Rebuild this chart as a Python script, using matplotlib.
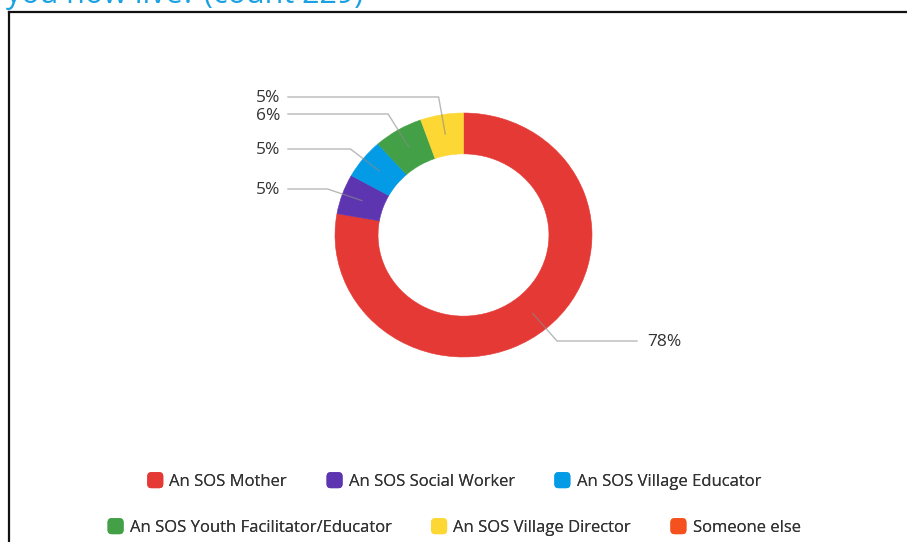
import matplotlib
matplotlib.use("Agg")
import matplotlib.pyplot as plt
import numpy as np
from matplotlib.patches import Patch, FancyBboxPatch
from matplotlib.legend_handler import HandlerPatch
from matplotlib.lines import Line2D

# ---- data ----
categories = ["An SOS Mother", "An SOS Social Worker", "An SOS Village Educator",
              "An SOS Youth Facilitator/Educator", "An SOS Village Director", "Someone else"]
percents = [77.8, 5.3, 5.3, 6.2, 5.4, 0.0]
colors = ["#E53935", "#5E35B1", "#039BE5", "#43A047", "#FDD835", "#F4511E"]
title = "you now live? (count 229)"

# ---- layout (pixels) ----
W, H = 907, 542
CX, CY, RX, RY = 463.5, 235.0, 128.5, 122.0
label_y_px = {"An SOS Mother": 341, "An SOS Social Worker": 189, "An SOS Village Educator": 149,
              "An SOS Youth Facilitator/Educator": 114, "An SOS Village Director": 97}
FONT = "Open Sans"
TEXT_COLOR = "#333333"

plt.rcParams["font.family"] = [FONT, "DejaVu Sans"]

fig = plt.figure(figsize=(W / 100, H / 100), dpi=100)
ax = fig.add_axes([0, 0, 1, 1])

shown = [(c, v, col) for c, v, col in zip(categories, percents, colors) if v > 0]
vals = [v for _, v, _ in shown]
cols = [col for _, _, col in shown]
wedges, _ = ax.pie(vals, colors=cols, startangle=90, counterclock=False, radius=1.0,
                   wedgeprops=dict(width=0.335, linewidth=0.4))
for w, col in zip(wedges, cols):
    w.set_edgecolor(col)

ax.set_aspect("auto")
ax.set_xlim((0 - CX) / RX, (W - CX) / RX)
ax.set_ylim((CY - H) / RY, CY / RY)
ax.axis("off")

def to_data_x(px):
    return (px - CX) / RX

def to_data_y(py):
    return (CY - py) / RY

# ---- labels with leader lines ----
for (cat, v, col), w in zip(shown, wedges):
    mid = np.deg2rad((w.theta1 + w.theta2) / 2.0)
    c, s = np.cos(mid), np.sin(mid)
    axp, ayp = 0.84 * c, 0.84 * s
    ly = to_data_y(label_y_px[cat])
    t = (ly - ayp) / s if abs(s) > 1e-6 else 0.3
    ex = axp + t * c
    if c > 0:
        endx = to_data_x(637)
        tx, ha = to_data_x(647), "left"
    else:
        endx = to_data_x(288)
        tx, ha = to_data_x(280), "right"
    ax.plot([axp, ex, endx], [ayp, ly, ly], color="#8a8a8a", lw=1.0, alpha=0.6,
            solid_joinstyle="miter", zorder=5)
    ax.text(tx, to_data_y(label_y_px[cat] + 1.5), f"{v:.0f}%", ha=ha, va="center",
            fontsize=12.5, color=TEXT_COLOR, zorder=6)

# ---- legend with rounded square handles ----
class RoundHandler(HandlerPatch):
    def create_artists(self, legend, orig_handle, xdescent, ydescent, width, height,
                       fontsize, trans):
        size = min(width, height)
        p = FancyBboxPatch((-xdescent + (width - size) / 2, -ydescent + (height - size) / 2),
                           size, size, boxstyle="round,pad=0,rounding_size=3",
                           facecolor=orig_handle.get_facecolor(), edgecolor="none",
                           transform=trans)
        return [p]

handles = [Patch(facecolor=col, label=cat) for cat, col in zip(categories, colors)]
rows = [(handles[:3], 1 - 481 / H), (handles[3:], 1 - 527 / H)]
for hs, yc in rows:
    leg = fig.legend(handles=hs, loc="center", bbox_to_anchor=(0.5, yc), ncol=3,
                     frameon=False, fontsize=12, handlelength=1.1, handleheight=1.1,
                     handletextpad=0.3, columnspacing=2.3, borderpad=0,
                     handler_map={Patch: RoundHandler()})
    for t in leg.get_texts():
        t.set_color(TEXT_COLOR)
    fig.add_artist(leg)

# ---- title (cut off at the top, as in the reference) and frame ----
fig.text(6 / W, 1 - 2.5 / H, title, color="#1BA1E2", fontsize=22, ha="left", va="baseline")
fig.add_artist(Line2D([9 / W, 9 / W], [0, 1 - 11.5 / H], color="#111111", lw=1.6,
                      transform=fig.transFigure))
fig.add_artist(Line2D([9 / W, 1], [1 - 11.5 / H, 1 - 11.5 / H], color="#111111", lw=1.6,
                      transform=fig.transFigure))

fig.savefig("out.png", dpi=100)
